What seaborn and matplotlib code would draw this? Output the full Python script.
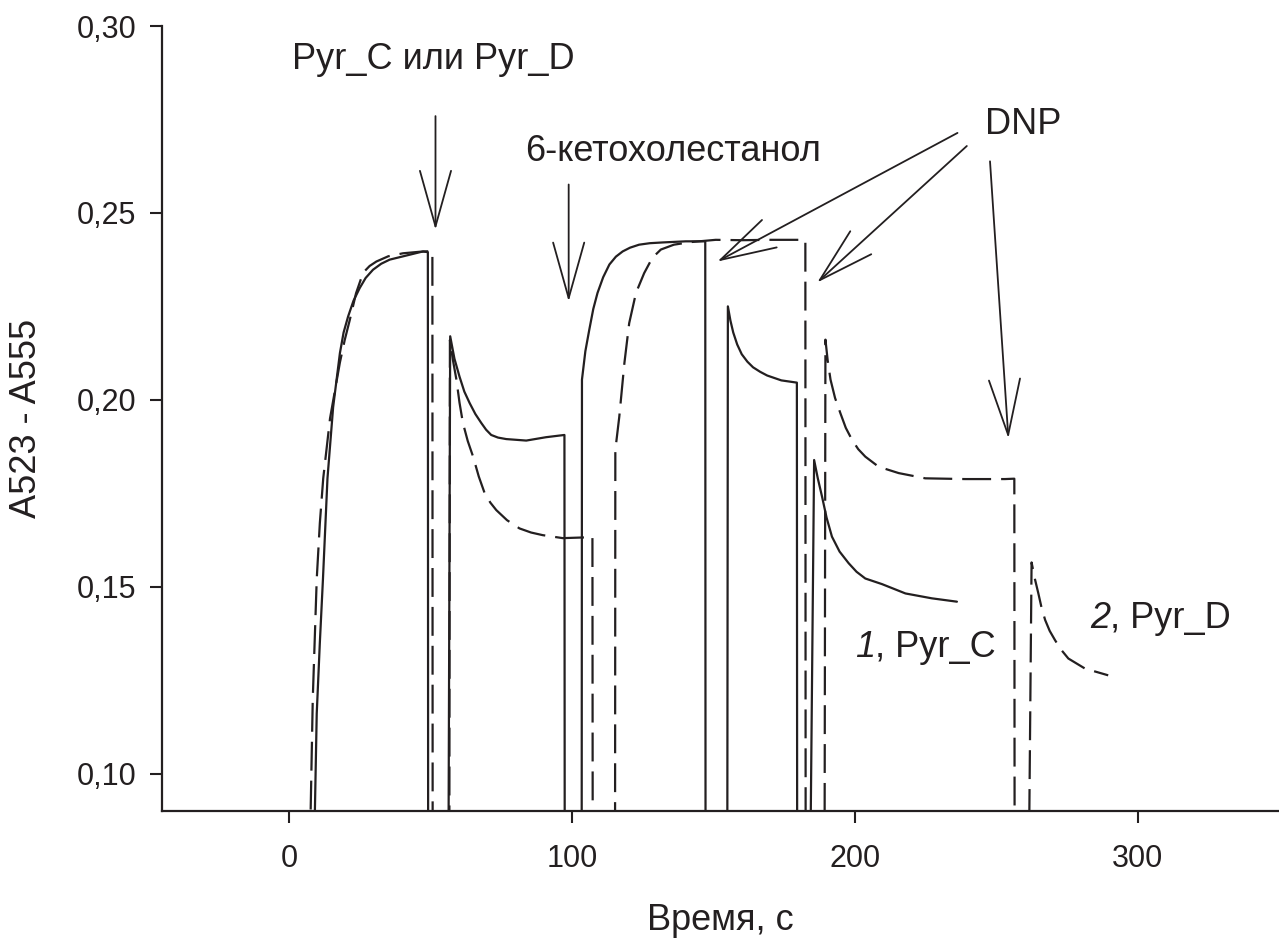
import matplotlib
matplotlib.use("Agg")
import matplotlib.pyplot as plt
import seaborn as sns
import pandas as pd

# curve 1, Pyr_C (solid); 0.08 = below axis (drop)
t_c = [8.8, 9.7, 10.8, 11.9, 13.5, 15.5, 17.9, 19.2, 20.8, 22.7, 24.9, 27.0, 29.6, 32.5, 35.5, 41.4, 47.3, 49.0, 49.1,
       56.3, 56.9, 58.4, 60.2, 61.9, 63.8, 65.8, 67.9, 69.6, 71.4, 73.8, 76.7, 83.8, 90.8, 97.3, 97.4,
       103.4, 103.5, 104.7, 106.1, 107.5, 109.0, 111.0, 113.2, 115.5, 117.9, 120.5, 123.7, 127.5, 132.0, 140.2, 147.1, 147.2,
       154.9, 155.1, 156.0, 157.0, 158.4, 160.0, 162.0, 164.0, 166.5, 169.0, 174.0, 179.5, 179.6,
       184.3, 185.6, 186.9, 188.4, 190.0, 191.9, 194.6, 197.8, 200.6, 203.7, 209.6, 217.9, 227.2, 236.1]
a_c = [0.08, 0.116, 0.135, 0.152, 0.179, 0.198, 0.2125, 0.2180, 0.2223, 0.2265, 0.2299, 0.2326, 0.2348, 0.2364, 0.2375, 0.2386, 0.2397, 0.2395, 0.08,
       0.08, 0.217, 0.2110, 0.2062, 0.2022, 0.1991, 0.1962, 0.1938, 0.1920, 0.1906, 0.1899, 0.1895, 0.1891, 0.1900, 0.1906, 0.08,
       0.08, 0.2054, 0.2130, 0.2188, 0.2243, 0.2286, 0.2328, 0.2362, 0.2383, 0.2397, 0.2407, 0.2415, 0.2419, 0.2421, 0.2424, 0.2424, 0.08,
       0.08, 0.225, 0.2212, 0.2180, 0.2148, 0.2122, 0.2102, 0.2087, 0.2075, 0.2065, 0.2052, 0.2046, 0.08,
       0.08, 0.1839, 0.1790, 0.1741, 0.1685, 0.1634, 0.1594, 0.1563, 0.1540, 0.1522, 0.1507, 0.1482, 0.1469, 0.1460]

# curve 2, Pyr_D (dashed)
t_d = [7.3, 8.3, 9.7, 10.8, 12.0, 14.4, 17.9, 19.6, 21.4, 23.6, 26.1, 28.4, 30.8, 35.0, 40.2, 46.0, 50.6, 50.7,
       56.6, 56.8, 57.9, 59.1, 60.2, 61.4, 63.1, 65.0, 67.0, 69.1, 71.1, 73.2, 77.0, 81.4, 85.5, 89.6, 96.7, 104.9, 107.2, 107.3,
       115.2, 115.3, 116.7, 118.5, 120.2, 122.6, 125.5, 128.4, 131.4, 136.0, 142.0, 150.8, 160.0, 170.0, 182.5, 182.6,
       189.3, 189.6, 190.4, 191.4, 193.0, 194.9, 196.8, 199.0, 201.2, 203.7, 208.4, 215.5, 224.9, 239.0, 253.1, 256.4, 256.5,
       261.6, 262.5, 263.7, 264.9, 266.0, 267.3, 268.9, 270.8, 272.9, 275.5, 281.4, 289.6]
a_d = [0.08, 0.120, 0.152, 0.167, 0.179, 0.195, 0.210, 0.2160, 0.2214, 0.2285, 0.2340, 0.2358, 0.2370, 0.2384, 0.2392, 0.2396, 0.2398, 0.08,
       0.08, 0.216, 0.2105, 0.2054, 0.1992, 0.1938, 0.1890, 0.1848, 0.1795, 0.1750, 0.1725, 0.1705, 0.1678, 0.1656, 0.1645, 0.1638, 0.1630, 0.1632, 0.1634, 0.08,
       0.08, 0.1866, 0.1955, 0.2098, 0.2205, 0.2286, 0.2339, 0.2380, 0.2402, 0.2415, 0.2422, 0.2428, 0.2427, 0.2428, 0.2428, 0.08,
       0.08, 0.2161, 0.2105, 0.2054, 0.2005, 0.1964, 0.1925, 0.1893, 0.1868, 0.1848, 0.1821, 0.1804, 0.1790, 0.1788, 0.1788, 0.1789, 0.08,
       0.08, 0.1565, 0.1520, 0.1482, 0.1445, 0.1411, 0.1382, 0.1357, 0.1332, 0.1308, 0.1281, 0.1263]

x_ticks = [0, 100, 200, 300]
y_ticks = [0.10, 0.15, 0.20, 0.25, 0.30]
y_tick_labels = ["0,10", "0,15", "0,20", "0,25", "0,30"]

ink = "#231f20"

sns.set_style("ticks")
plt.rcParams["font.family"] = ["Liberation Sans", "DejaVu Sans"]

fig = plt.figure(figsize=(12.79, 9.39), dpi=100)
ax = fig.add_axes([0.1267, 0.1363, 0.8733, 0.836])

df_c = pd.DataFrame({"t": t_c, "a": a_c})
df_d = pd.DataFrame({"t": t_d, "a": a_d})
sns.lineplot(data=df_c, x="t", y="a", sort=False, estimator=None, color=ink, lw=1.6, ax=ax)
sns.lineplot(data=df_d, x="t", y="a", sort=False, estimator=None, color=ink, lw=1.6,
             linestyle=(0, (13, 4.5)), ax=ax)

ax.set_xlim(-45, 350)
ax.set_ylim(0.09, 0.30)
ax.set_xticks(x_ticks)
ax.set_yticks(y_ticks)
ax.set_yticklabels(y_tick_labels)
sns.despine(ax=ax)
for s in ["left", "bottom"]:
    ax.spines[s].set_color(ink)
    ax.spines[s].set_linewidth(1.6)
ax.tick_params(axis="both", direction="out", length=8.6, width=1.5, color=ink,
               labelsize=22, labelcolor=ink)
ax.tick_params(axis="y", pad=10)
ax.tick_params(axis="x", pad=15)

ax.set_xlabel("Время, с", fontsize=26, color=ink, va="center")
ax.set_ylabel("A523 - A555", fontsize=26, color=ink, va="center")
ax.xaxis.set_label_coords(0.5, -0.139)
ax.yaxis.set_label_coords(-0.1218, 0.5)

# annotations
arrow = dict(arrowstyle="->,head_length=2.0,head_width=0.56", mutation_scale=20,
             color=ink, lw=1.3, shrinkA=0, shrinkB=0)

ax.text(51.1, 0.2884, "Pyr_C или Pyr_D", ha="center", va="baseline", fontsize=26, color=ink)
ax.annotate("", xy=(51.7, 0.2455), xytext=(51.7, 0.2759), arrowprops=arrow)

ax.text(135.7, 0.2638, "6-кетохолестанол", ha="center", va="baseline", fontsize=26, color=ink)
ax.annotate("", xy=(98.8, 0.2263), xytext=(98.8, 0.2576), arrowprops=arrow)

ax.text(259.5, 0.271, "DNP", ha="center", va="baseline", fontsize=26, color=ink)
ax.annotate("", xy=(151.4, 0.2370), xytext=(236.3, 0.2714), arrowprops=arrow)
ax.annotate("", xy=(186.7, 0.2314), xytext=(239.6, 0.2679), arrowprops=arrow)
ax.annotate("", xy=(254.3, 0.1897), xytext=(247.8, 0.2638), arrowprops=arrow)

n1 = ax.text(200.0, 0.1312, "1", style="italic", ha="left", va="baseline", fontsize=26, color=ink)
ax.annotate(", Pyr_C", xy=(1, 0), xycoords=n1, ha="left", va="bottom", fontsize=26, color=ink)
n2 = ax.text(283.1, 0.139, "2", style="italic", ha="left", va="baseline", fontsize=26, color=ink)
ax.annotate(", Pyr_D", xy=(1, 0), xycoords=n2, ha="left", va="bottom", fontsize=26, color=ink)

plt.savefig("out.png", dpi=100)
